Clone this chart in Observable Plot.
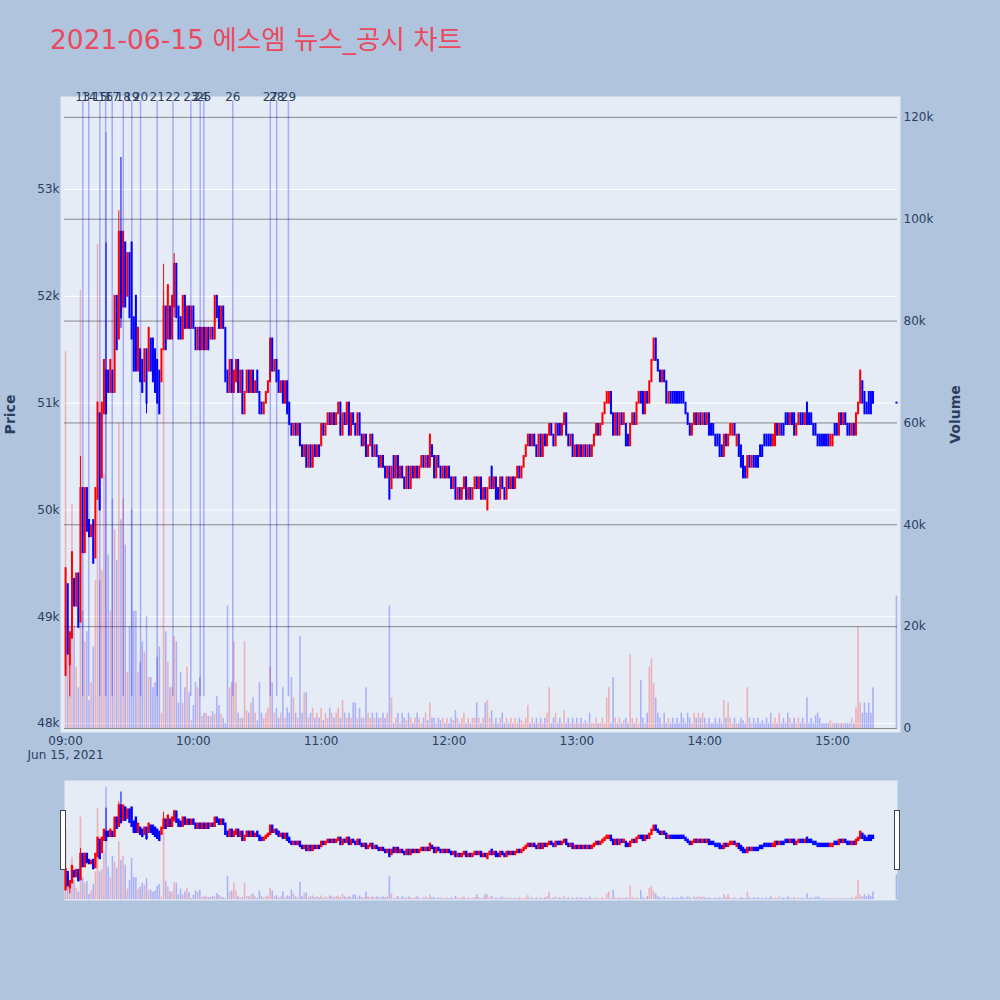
<!DOCTYPE html>
<html><head><meta charset="utf-8">
<script src="https://cdn.jsdelivr.net/npm/d3@7"></script>
<script src="https://cdn.jsdelivr.net/npm/@observablehq/plot@0.6"></script>
<style>
html,body{margin:0;padding:0;background:#b0c4de;}
#wrap{position:relative;width:1000px;height:1000px;background:#b0c4de;overflow:hidden;}
#wrap svg{position:absolute;left:0;top:0;pointer-events:none;}
#title{position:absolute;left:50px;top:25px;font-size:26.5px;line-height:30px;color:#ea4a5f;font-family:'DejaVu Sans','Noto Sans CJK KR',sans-serif;white-space:nowrap;}
.handle{position:absolute;top:810px;width:4px;height:58px;background:#fff;border:1px solid #444;}
</style></head>
<body><div id="wrap"><div id="title">2021-06-15 에스엠 뉴스_공시 차트</div></div>
<script>
// ---------- data (prices in hundreds of won, volume in thousands) ----------
const sessionStart = "2021-06-15 09:00";
const opens = [
484.5,493,485.5,488,493.5,491,494,489.5,502,496,
502,499,497.5,499,495.5,501,509,503,509,513,
513,511,513,511,520,516,526,519,525,520,
524,525,518,520,513,515,514,512,515,513,
516,516,515,514,513,512,515,519,516,519,
516,519,523,519,518,516,520,517,519,517,
519,517,515,517,515,517,515,517,516,517,
516,520,519,517,519,517,513,511,514,511,
512,514,511,513,509,511,513,511,513,511,
513,511,510,509,510,511,512,516,513,514,
513,511,512,510,512,510,508,507,508,507,
508,506,505,506,504,506,504,506,505,506,
506,508,507,508,509,508,509,508,509,510,
507,509,508,510,507,509,508,507,509,507,
506,507,505,506,507,505,506,505,504,505,
504,503,504,502,505,503,505,503,504,503,
502,504,502,504,503,504,503,504,505,504,
505,504,506,505,503,505,504,503,504,503,
504,503,502,503,501,502,501,502,503,501,
502,501,502,503,502,503,501,502,500,502,
504,502,503,502,501,503,502,501,503,502,
503,502,503,504,503,504,505,506,507,506,
507,506,505,507,505,507,506,507,508,507,
506,508,508,507,508,509,507,506,507,505,
506,505,506,505,506,505,506,505,506,507,
508,507,508,509,510,510,511,509,507,509,
507,509,508,508,507,506,508,509,508,510,
511,511,509,511,510,512,514,516,514,513,
512,513,512,510,511,511,511,511,511,511,
511,510,509,508,507,508,509,508,509,508,
509,508,509,508,508,507,507,507,506,505,
507,506,507,507,508,506,507,506,505,504,
503,505,504,505,505,505,506,506,507,507,
507,507,506,506,508,507,508,508,509,509,
508,509,509,507,508,509,509,508,510,509,
509,508,508,507,507,507,507,507,507,506,
506,508,508,507,509,508,509,508,508,507,
508,507,509,510,512,511,510,511,511,511];
const closes = [
494.5,486.5,488.5,496,491,494,489,502,496,502,
498,497.5,498.5,495,502,510,500,510,514,509,
511,514,511,520,515,526,518,526,519,524,
518,516,513,513,517,512,511,515,510,517,
513,512,511,510,509,515,519,515,521,516,
520,523,518,516,516,520,517,519,517,519,
517,515,517,515,517,515,517,515,517,516,
520,518,517,519,517,512,511,514,511,513,
514,511,513,509,511,513,511,513,511,512,
511,509,509,510,511,512,516,513,514,512,
511,512,510,512,509,508,507,508,507,508,
506,505,506,504,506,504,506,505,506,505,
508,507,508,509,508,509,508,509,510,507,
509,508,510,507,509,508,507,509,507,506,
507,505,506,507,505,506,505,504,505,504,
503,504,501,504,503,505,503,504,503,502,
504,502,504,503,504,503,504,505,504,505,
504,507,505,503,505,504,503,504,503,504,
503,502,503,501,502,501,502,503,501,502,
501,502,503,502,503,501,502,501,502,503,
502,503,501,501,503,502,501,503,502,503,
502,503,504,503,504,505,506,507,506,507,
506,505,507,505,507,506,507,508,507,506,
508,507,507,508,509,507,506,507,505,506,
505,506,505,506,505,506,505,506,507,508,
507,508,509,510,511,511,509,507,509,507,
509,508,509,506,506,508,509,508,510,511,
510,509,511,510,512,514,516,514,513,512,
513,512,510,511,510,510,510,510,510,510,
510,509,508,507,508,509,508,509,508,509,
508,509,507,507,507,506,506,505,505,507,
506,507,508,508,507,507,505,504,503,503,
505,504,505,504,504,504,505,505,506,506,
506,506,507,508,507,508,507,507,508,508,
509,508,507,508,509,508,508,509,508,508,
508,507,507,506,506,506,506,506,506,507,
507,507,507,509,508,509,508,507,507,508,
507,509,510,513,510,509,509,509,509,510];
const volumes = [
74,17,20,44,20,12,8,86,23,17,
19,5.5,9,16,29,95,29,31,50,117,
34,23,45,39,33,60,41,45,36,11,
20,43,23,23,11,13,17,15,22,10,
10,8,9,14,16,3,86,19,13,8,
8,18,17,5,11,5,8,12,7,1.5,
4.5,9,8,10,2.4,3,3,2.4,2.4,3.3,
2.8,6.3,4.5,2.8,2,1,24,8,9,17,
9,3,2,2,17,3.5,3,5,6,3,
1.5,9,3,2,3,4,12,9,3,4,
2,3,8,2,4,3,10,6,3,2,
18,3,7,7,2,3,4,2,3,2,
4,1.5,3,2,4,3,2,3,4,2,
5.5,3,2,3,2,5,5,2,4,2,
2,8,3,2,3,2,3,2,2,3,
2,3,24,6,1,2,3,1,3,2,
1.5,3,2,1,2,3,2,1,2,3,
1.5,5,2,2,1,2,1.5,2,1,2,
1,2,1.5,3.5,2,1,2,3,1,2,
1,2,2,5,2,1,2,5,5.5,2,
3.5,1,2,1,2,3,1,2,1,2,
1,2,1,2,1.5,1,2,4.5,1,2,
1,2,1,2,1,2,3,8,1,2,
3,1,2,1,3.5,1,2,1,2,1,
2,1,2,1,1.5,1,3,1,1,2,
1,1,2,1,6,8,1,10,2,1,
2,1,1.5,2,1,14.5,2,1,2,1,
9.4,2,1,3,12,13.7,8.8,6,3,2,
1,3,1,2,1,2,1,2,1,3,
2,1,3,2,1,3,2,3,2,3,
2,1,2,1,1,2,1,2,1,5.5,
2,5,2,1,2,1,1,2,1.5,1,
8,2,1,2,1,2,1,1.5,1,2,
1,3,1,2,1,3,1,2,1,3,
2,1,2,1,2,1,2,1,6,1,
2,1,2.5,3,2,1,1,1,1,1.5,
1,1,1,1,1,1,1,1,1,2,
1,4,20,5,3,5,3,5,3,8];
// wicks beyond the candle bodies (minute index from 09:00)
const spikeIdx  = [2, 7, 19, 25, 26, 38, 46, 51];
const spikeHigh = [488.5, 505, 525, 528, 533, 515, 523, 524];
const spikeLow  = [482.5, 489.5, 509, 516, 517, 509, 515, 518];
// closing auction
const auctionTime = "2021-06-15 15:30";
const auctionOpen = 510, auctionClose = 510, auctionVolume = 26;
// news / disclosure markers
const newsTimes  = ["09:08:06","09:10:54","09:16:06","09:18:48","09:21:54","09:27:06","09:31:06","09:35:12","09:43:00","09:50:24","09:58:48","10:03:12","10:04:54","10:18:30","10:36:06","10:39:06","10:44:36"];
const newsLabels = ["13","14","15","16","17","18","19","20","21","22","23","24","25","26","27","28","29"];
// axes
const xTickTimes  = ["09:00","10:00","11:00","12:00","13:00","14:00","15:00"];
const priceTicks  = [48000, 49000, 50000, 51000, 52000, 53000];
const priceTickLabels = ["48k","49k","50k","51k","52k","53k"];
const volumeTicks = [0, 20, 40, 60, 80, 100, 120];
const volumeTickLabels = ["0","20k","40k","60k","80k","100k","120k"];
const priceRange  = [47916, 53871];
const volumeRange = [-0.79, 124.1];

// ---------- build tables ----------
const parseM = d3.timeParse("%Y-%m-%d %H:%M");
const parseS = d3.timeParse("%Y-%m-%d %H:%M:%S");
const day = sessionStart.slice(0, 10);
const t0 = parseM(sessionStart);
const MIN = 60000;
const UP = "#ff0000", DOWN = "#0000ff";
const candles = opens.map((o, i) => {
  const c = closes[i];
  const j = spikeIdx.indexOf(i);
  const open = o * 100, close = c * 100;
  return {
    time: new Date(+t0 + i * MIN),
    open, close,
    high: Math.max(open, close, j >= 0 ? spikeHigh[j] * 100 : -Infinity),
    low: Math.min(open, close, j >= 0 ? spikeLow[j] * 100 : Infinity),
    volume: volumes[i],
    color: close > open ? UP : DOWN
  };
});
candles.push({time: parseM(auctionTime), open: auctionOpen*100, close: auctionClose*100,
  high: Math.max(auctionOpen, auctionClose)*100, low: Math.min(auctionOpen, auctionClose)*100,
  volume: auctionVolume, color: auctionClose > auctionOpen ? UP : DOWN});
const news = newsTimes.map((t, i) => ({time: parseS(day + " " + t), label: newsLabels[i]}));
const lineLow = d3.min(candles, d => d.low);
const lineHigh = d3.max(candles, d => d.high) * 1.01;
const xDomain = [new Date(+candles[0].time - MIN/2), new Date(+candles[candles.length-1].time + MIN/2)];
const xTicks = xTickTimes.map(t => parseM(day + " " + t));
const xLab = new Map(xTicks.map((d, i) => [+d, xTickTimes[i]]));
const pLab = new Map(priceTicks.map((d, i) => [d, priceTickLabels[i]]));
const vLab = new Map(volumeTicks.map((d, i) => [d, volumeTickLabels[i]]));

// ---------- drawing ----------
const FONT = "'DejaVu Sans', Verdana, sans-serif";
const wrap = document.getElementById("wrap");
function layer(margins, opts) {
  const svg = Plot.plot({
    width: 1000, height: 1000, ...margins, ...opts,
    color: {type: "identity"},
    style: {background: "transparent", color: "#2a3f5f", fontFamily: FONT, fontSize: "12px", overflow: "visible"}
  });
  wrap.appendChild(svg);
}
const mainM = {marginTop: 96, marginBottom: 268, marginLeft: 64, marginRight: 103};
const sliderM = {marginTop: 780, marginBottom: 100, marginLeft: 64, marginRight: 103};
const barMarks = () => Plot.ruleX(candles, {x: "time", y1: () => 0, y2: "volume", stroke: "color", strokeOpacity: 0.25, strokeWidth: 1.6});
const candleMarks = (w) => [
  Plot.ruleX(candles, {x: "time", y1: "low", y2: "high", stroke: "color", strokeWidth: 1}),
  Plot.ruleX(candles, {x: "time", y1: "open", y2: "close", stroke: "color", strokeWidth: w, strokeLinecap: "square"})
];

// main: background + price grid
layer(mainM, {
  x: {domain: xDomain, axis: null},
  y: {domain: priceRange, axis: null},
  marks: [
    Plot.frame({fill: "#e5ecf6", stroke: "none", insetLeft: -4, insetRight: -3}),
    Plot.ruleY(priceTicks, {stroke: "#ffffff", strokeWidth: 1})
  ]
});
// main: volume
layer(mainM, {
  x: {domain: xDomain, axis: null},
  y: {domain: volumeRange, axis: "right", ticks: volumeTicks, tickFormat: d => vLab.get(d), tickSize: 0, tickPadding: 6, label: null},
  marks: [
    Plot.ruleY(volumeTicks, {stroke: "#888888", strokeWidth: 1}),
    barMarks(),
    Plot.text(["Volume"], {frameAnchor: "right", dx: 58, rotate: -90, textAnchor: "middle", fontSize: 14, fontWeight: "bold", fill: "#2a3f5f"})
  ]
});
// main: candles, news markers, axes
layer(mainM, {
  x: {domain: xDomain, ticks: xTicks, tickFormat: d => xLab.get(+d), tickSize: 0, tickPadding: 4, label: null},
  y: {domain: priceRange, axis: "left", ticks: priceTicks, tickFormat: d => pLab.get(d), tickSize: 0, tickPadding: 5, label: null},
  marks: [
    ...candleMarks(2),
    Plot.ruleX(news, {x: "time", y1: () => lineLow, y2: () => lineHigh, stroke: "#0000ff", strokeOpacity: 0.28, strokeWidth: 1.5}),
    Plot.text(news, {x: "time", y: () => lineHigh, text: "label", dy: -3, fontSize: 12, fill: "#2a3f5f"}),
    Plot.text([t0], {x: d => d, text: d => d3.timeFormat("%b %d, %Y")(d), frameAnchor: "bottom", dy: 26, fontSize: 12, fill: "#2a3f5f"}),
    Plot.text(["Price"], {frameAnchor: "left", dx: -54, rotate: -90, textAnchor: "middle", fontSize: 14, fontWeight: "bold", fill: "#2a3f5f"})
  ]
});
// range slider: background + volume
layer(sliderM, {
  x: {domain: xDomain, axis: null},
  y: {domain: volumeRange, axis: null},
  marks: [Plot.frame({fill: "#e5ecf6", stroke: "none"}), barMarks()]
});
// range slider: candles
layer(sliderM, {
  x: {domain: xDomain, axis: null},
  y: {domain: priceRange, axis: null},
  marks: candleMarks(2.4)
});
// slider handles
for (const left of [60, 894]) {
  const h = document.createElement("div");
  h.className = "handle";
  h.style.left = left + "px";
  wrap.appendChild(h);
}
</script>
</body></html>
